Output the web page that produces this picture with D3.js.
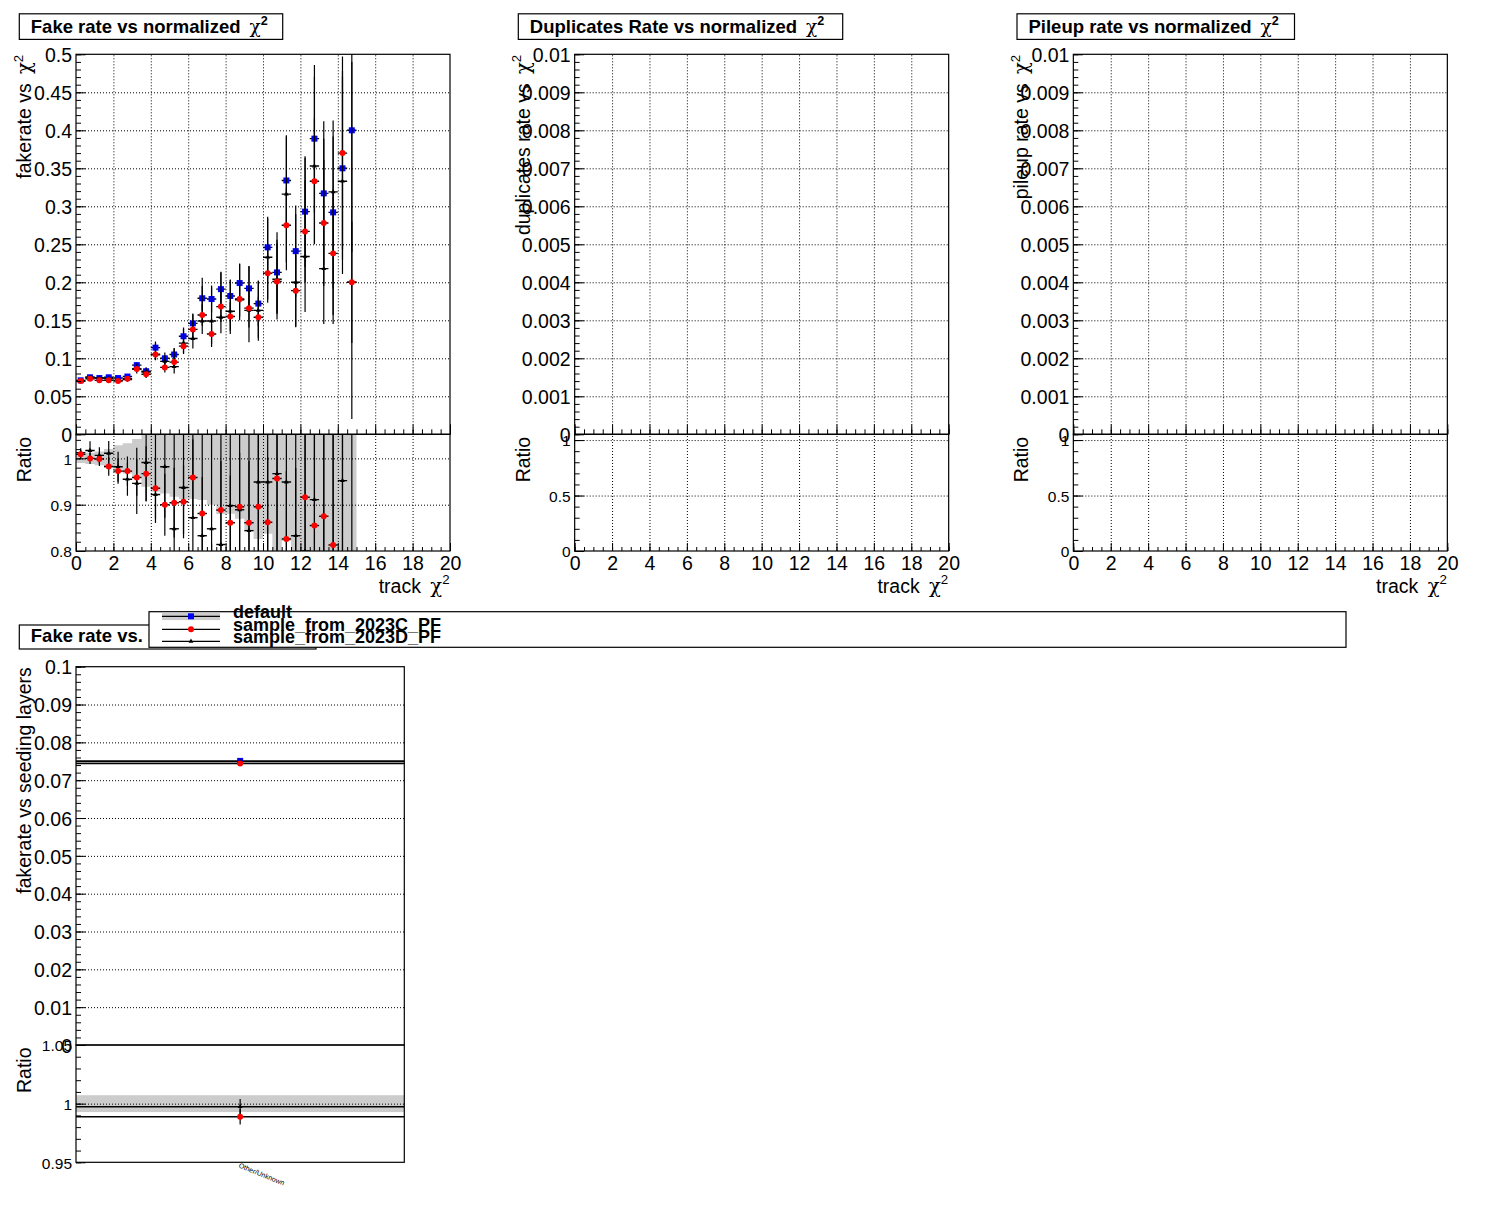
<!DOCTYPE html>
<html><head><meta charset="utf-8">
<script src="https://cdn.jsdelivr.net/npm/d3@7"></script>
<style>
body{margin:0;background:#fff;}
svg{display:block;}
</style></head><body>
<svg id="chart" width="1496" height="1222"></svg>
<script>
// ---------------- DATA ----------------
const chi2Bins = [0.25,0.75,1.25,1.75,2.25,2.75,3.25,3.75,4.25,4.75,5.25,5.75,6.25,6.75,7.25,7.75,8.25,8.75,9.25,9.75,10.25,10.75,11.25,11.75,12.25,12.75,13.25,13.75,14.25,14.75];
const binHalfWidth = 0.25;
const seriesNames = ["default","sample_from_2023C_PF","sample_from_2023D_PF"];

// default (blue)
const fakeDefault = [0.071,0.075,0.074,0.075,0.074,0.076,0.091,0.083,0.114,0.100,0.105,0.129,0.146,0.179,0.178,0.191,0.182,0.199,0.192,0.172,0.246,0.213,0.334,0.241,0.293,0.389,0.317,0.292,0.350,0.400];
const fakeDefaultErr = [0.0007,0.0009,0.0011,0.0015,0.0021,0.0025,0.0038,0.0051,0.0082,0.0076,0.0087,0.0114,0.0128,0.0161,0.0178,0.0229,0.0218,0.0259,0.0296,0.0299,0.0401,0.053,0.0595,0.060,0.073,0.097,0.095,0.100,0.120,0.160];
// 2023C (red)
const fake2023C = [0.070,0.073,0.071,0.071,0.070,0.073,0.086,0.079,0.105,0.088,0.095,0.116,0.138,0.157,0.132,0.168,0.155,0.178,0.166,0.154,0.212,0.201,0.275,0.189,0.267,0.333,0.278,0.238,0.370,0.200];
const fake2023CErr = [0.0007,0.0009,0.0011,0.0015,0.0020,0.0024,0.0036,0.0049,0.0075,0.0067,0.0079,0.0102,0.0120,0.0141,0.0132,0.0202,0.0186,0.0232,0.0256,0.0268,0.0346,0.050,0.049,0.047,0.067,0.083,0.083,0.081,0.127,0.080];
// 2023D (black), asymmetric errors
const fake2023D = [0.070,0.075,0.074,0.073,0.071,0.072,0.086,0.082,0.105,0.096,0.089,0.120,0.126,0.149,0.149,0.154,0.162,0.177,0.163,0.163,0.233,0.204,0.316,0.200,0.234,0.353,0.218,0.319,0.333,0.200];
const fake2023DErrLo = [0.0007,0.0015,0.0013,0.002,0.0024,0.0027,0.006,0.007,0.007,0.011,0.009,0.013,0.013,0.017,0.034,0.021,0.030,0.027,0.042,0.040,0.060,0.046,0.100,0.059,0.073,0.102,0.073,0.174,0.122,0.180];
const fake2023DErrHi = [0.0007,0.0015,0.0013,0.002,0.0024,0.0027,0.007,0.005,0.015,0.008,0.024,0.019,0.032,0.057,0.045,0.059,0.041,0.047,0.058,0.039,0.051,0.052,0.076,0.090,0.130,0.117,0.171,0.094,0.145,0.290];
// ratios to default (read from the lower pad)
const ratio2023C = [1.0087,1.000,0.9986,0.9826,0.9725,0.9725,0.9587,0.967,0.9355,0.900,0.9043,0.9065,0.9587,0.881,0.742,0.8884,0.861,0.8957,0.861,0.8957,0.862,0.9565,0.826,0.784,0.916,0.855,0.875,0.813,1.06,0.50];
const ratio2023D = [1.012,1.017,1.0065,1.011,0.982,0.955,0.946,0.991,0.922,0.982,0.848,0.937,0.872,0.833,0.848,0.814,0.898,0.889,0.844,0.949,0.949,0.967,0.949,0.833,0.800,0.911,0.688,1.09,0.952,0.50];

// seeding layers panel
const seedLayers = ["Other/Unknown"];
const seedDefault = [0.0751], seedDefaultErr = [0.00054];
const seed2023C = [0.0744], seed2023CErr = [0.0005];
const seed2023D = [0.0749], seed2023DErr = [0.0005];
const seedRatio2023C = [0.9888], seedRatio2023D = [0.9974];

// tick labels
const chi2Ticks = [0,2,4,6,8,10,12,14,16,18,20];
const fakeTicks = [0,0.05,0.1,0.15,0.2,0.25,0.3,0.35,0.4,0.45,0.5];
const rateTicks = [0,0.001,0.002,0.003,0.004,0.005,0.006,0.007,0.008,0.009,0.01];
const ratioTicksFake = [0.8,0.9,1];
const ratioTicksEmpty = [0,0.5,1];
const seedTicks = [0,0.01,0.02,0.03,0.04,0.05,0.06,0.07,0.08,0.09,0.1];
const seedRatioTicks = [0.95,1,1.05];

// ---------------- DRAWING ----------------
const FONT = "'Liberation Sans', Arial, Helvetica, sans-serif";
const SYM = "'DejaVu Serif', 'Liberation Serif', serif";
const svg = d3.select('#chart').attr('font-family', FONT);
const defs = svg.append('defs');
const fmt = d => String(+(+d).toFixed(5));
const rng = (a,b,s) => d3.range(a, b + s/2, s);

function chiText(t, pre, size, bold) {
  t.append('tspan').text(pre);
  t.append('tspan').attr('font-family', SYM).attr('font-weight','normal').attr('dx', size*0.2).text('χ');
  t.append('tspan').attr('font-size', size*0.68).attr('font-weight', bold ? 'bold' : 'normal').attr('dy', -size*0.42).text('2');
}
function titleBox(x, y, w, h, label, hasChi, baseline) {
  svg.append('rect').attr('x',x).attr('y',y).attr('width',w).attr('height',h)
    .attr('fill','#fff').attr('stroke','#000').attr('stroke-width',1.2);
  const t = svg.append('text').attr('x', x+11.5).attr('y', baseline)
    .attr('font-weight','bold').attr('font-size',18.5);
  if (hasChi) chiText(t, label + ' ', 18.5, true); else t.text(label);
}
function yTitle(xb, yTop, label, hasChi) {
  const t = svg.append('text').attr('transform', `translate(${xb},${yTop}) rotate(-90)`)
    .attr('text-anchor','end').attr('font-size',19.5);
  if (hasChi) chiText(t, label + ' ', 19.5, false); else t.text(label);
}
function xTitle(xr, yb) {
  const t = svg.append('text').attr('x', xr).attr('y', yb).attr('text-anchor','end').attr('font-size',19.5);
  chiText(t, 'track ', 19.5, false);
}
function styleGrid(g) {
  g.select('.domain').remove();
  g.selectAll('line').attr('stroke','#000').attr('stroke-dasharray','1,2').attr('stroke-width',1);
}
function axisLeftPair(g, scale, x, majors, minors, fsize, majLen, minLen) {
  g.append('g').attr('transform',`translate(${x},0)`)
    .call(d3.axisLeft(scale).tickValues(minors).tickSize(-minLen).tickFormat(''))
    .call(a => a.select('.domain').remove());
  g.append('g').attr('transform',`translate(${x},0)`)
    .call(d3.axisLeft(scale).tickValues(majors).tickSize(-majLen).tickPadding(4).tickFormat(fmt))
    .call(a => { a.select('.domain').remove(); a.attr('font-size', fsize).attr('font-family', FONT);
      a.selectAll('text').attr('dy','0.37em').attr('fill','#000'); });
}
function axisBottomPair(g, scale, y, majors, minors, majLen, minLen, labels) {
  g.append('g').attr('transform',`translate(0,${y})`)
    .call(d3.axisBottom(scale).tickValues(minors).tickSize(-minLen).tickFormat(''))
    .call(a => a.select('.domain').remove());
  g.append('g').attr('transform',`translate(0,${y})`)
    .call(d3.axisBottom(scale).tickValues(majors).tickSize(-majLen).tickPadding(5).tickFormat(labels ? fmt : ''))
    .call(a => { a.select('.domain').remove(); a.attr('font-size', 19.5).attr('font-family', FONT);
      a.selectAll('text').attr('fill','#000'); });
}

function drawPoints(g, xs, ys, lo, hi, xsc, ysc, marker, xHalf) {
  xs.forEach((xv, i) => {
    const v = ys[i]; if (v == null) return;
    const cx = xsc(xv), cy = ysc(v);
    const [x0, x1] = xHalf(i);
    g.append('line').attr('x1',cx).attr('x2',cx).attr('y1',ysc(v - lo[i])).attr('y2',ysc(v + hi[i]))
      .attr('stroke','#000').attr('stroke-width',1.2);
    g.append('line').attr('x1',x0).attr('x2',x1).attr('y1',cy).attr('y2',cy)
      .attr('stroke','#000').attr('stroke-width',1.4);
  });
  xs.forEach((xv, i) => {
    const v = ys[i]; if (v == null) return;
    const cx = xsc(xv), cy = ysc(v);
    if (marker === 'square') g.append('rect').attr('x',cx-3).attr('y',cy-3).attr('width',6).attr('height',6).attr('fill','#0000ff');
    else if (marker === 'circle') g.append('circle').attr('cx',cx).attr('cy',cy).attr('r',3).attr('fill','#ff0000');
    else g.append('path').attr('transform',`translate(${cx},${cy})`).attr('d', d3.symbol(d3.symbolTriangle, 10)()).attr('fill','#000');
  });
}

function makePanel(c) {
  const x = d3.scaleLinear().domain(c.xDomain).range([c.left, c.right]);
  const y = d3.scaleLinear().domain(c.yDomain).range([c.mid, c.top]);
  const yr = d3.scaleLinear().domain(c.rDomain).range([c.bottom, c.mid]);
  defs.append('clipPath').attr('id', c.id+'m').append('rect')
    .attr('x', c.left).attr('y', c.top).attr('width', c.right-c.left).attr('height', c.mid-c.top);
  defs.append('clipPath').attr('id', c.id+'r').append('rect')
    .attr('x', c.left).attr('y', c.mid).attr('width', c.right-c.left).attr('height', c.bottom-c.mid);
  const gBand = svg.append('g').attr('clip-path', `url(#${c.id}r)`);
  const gGrid = svg.append('g');
  const gMain = svg.append('g').attr('clip-path', `url(#${c.id}m)`);
  const gRatio = svg.append('g').attr('clip-path', `url(#${c.id}r)`);
  const gAxes = svg.append('g');
  return {x, y, yr, gBand, gGrid, gMain, gRatio, gAxes};
}

function chi2Panel(c) {
  const p = makePanel(c);
  const xGrid = chi2Ticks.slice(1, -1);
  p.gGrid.append('g').attr('transform',`translate(0,${c.mid})`)
    .call(d3.axisBottom(p.x).tickValues(xGrid).tickSize(-(c.mid-c.top)).tickFormat('')).call(styleGrid);
  p.gGrid.append('g').attr('transform',`translate(0,${c.bottom})`)
    .call(d3.axisBottom(p.x).tickValues(xGrid).tickSize(-(c.bottom-c.mid)).tickFormat('')).call(styleGrid);
  p.gGrid.append('g').attr('transform',`translate(${c.left},0)`)
    .call(d3.axisLeft(p.y).tickValues(c.yTicks.slice(1,-1)).tickSize(-(c.right-c.left)).tickFormat('')).call(styleGrid);
  p.gGrid.append('g').attr('transform',`translate(${c.left},0)`)
    .call(d3.axisLeft(p.yr).tickValues(c.rGrid).tickSize(-(c.right-c.left)).tickFormat('')).call(styleGrid);
  svg.append('rect').attr('x',c.left).attr('y',c.top).attr('width',c.right-c.left).attr('height',c.mid-c.top)
    .attr('fill','none').attr('stroke','#000').attr('stroke-width',1.2);
  svg.append('rect').attr('x',c.left).attr('y',c.mid).attr('width',c.right-c.left).attr('height',c.bottom-c.mid)
    .attr('fill','none').attr('stroke','#000').attr('stroke-width',1.2);
  axisLeftPair(p.gAxes, p.y, c.left, c.yTicks, rng(c.yDomain[0], c.yDomain[1], c.yMinor), 19.5, 9.5, 5);
  axisLeftPair(p.gAxes, p.yr, c.left, c.rTicks, c.rMinors, 15.5, 9.5, 5);
  axisBottomPair(p.gAxes, p.x, c.mid, chi2Ticks, rng(0,20,0.5), 10, 5, false);
  axisBottomPair(p.gAxes, p.x, c.bottom, chi2Ticks, rng(0,20,0.5), 8, 4, true);
  yTitle(c.left-45, c.top+0.5, c.yLabel, true);
  svg.append('text').attr('transform',`translate(${c.left-45},${c.mid+2.5}) rotate(-90)`)
    .attr('text-anchor','end').attr('font-size',19.5).text('Ratio');
  xTitle(c.right-0.5, c.bottom+41.5);
  return p;
}

// ---- Panel 1: fake rate vs chi2 ----
const PAD = 498.67;
const c1 = {id:'p1', left:76, right:450, top:54.3, mid:434.3, bottom:551,
  xDomain:[0,20], yDomain:[0,0.5], rDomain:[0.8,1.052], yTicks:fakeTicks, yMinor:0.01,
  rTicks:ratioTicksFake, rMinors:rng(0.8,1.04,0.02), rGrid:[0.9,1], yLabel:'fakerate vs'};
const p1 = chi2Panel(c1);
const binPx = i => [p1.x(chi2Bins[i]-binHalfWidth), p1.x(chi2Bins[i]+binHalfWidth)];

const bandPts = [];
chi2Bins.forEach((b,i) => {
  const rel = fakeDefaultErr[i] / fakeDefault[i];
  bandPts.push({x:b-binHalfWidth, lo:1-rel, hi:1+rel});
  bandPts.push({x:b+binHalfWidth, lo:1-rel, hi:1+rel});
});
p1.gBand.append('path').datum(bandPts)
  .attr('d', d3.area().x(d => p1.x(d.x)).y0(d => p1.yr(d.lo)).y1(d => p1.yr(d.hi)))
  .attr('fill','#cccccc');

drawPoints(p1.gMain, chi2Bins, fakeDefault, fakeDefaultErr, fakeDefaultErr, p1.x, p1.y, 'square', binPx);
drawPoints(p1.gMain, chi2Bins, fake2023D, fake2023DErrLo, fake2023DErrHi, p1.x, p1.y, 'tri', binPx);
drawPoints(p1.gMain, chi2Bins, fake2023C, fake2023CErr, fake2023CErr, p1.x, p1.y, 'circle', binPx);
const rErrC = fake2023CErr.map((e,i) => e / fakeDefault[i]);
const rErrDLo = fake2023DErrLo.map((e,i) => e / fakeDefault[i]);
const rErrDHi = fake2023DErrHi.map((e,i) => e / fakeDefault[i]);
drawPoints(p1.gRatio, chi2Bins, ratio2023D, rErrDLo, rErrDHi, p1.x, p1.yr, 'tri', binPx);
drawPoints(p1.gRatio, chi2Bins, ratio2023C, rErrC, rErrC, p1.x, p1.yr, 'circle', binPx);

// ---- Panels 2,3 ----
const c2 = {id:'p2', left:76+PAD, right:450+PAD, top:54.3, mid:434.3, bottom:551,
  xDomain:[0,20], yDomain:[0,0.01], rDomain:[0,1.052], yTicks:rateTicks, yMinor:0.0002,
  rTicks:ratioTicksEmpty, rMinors:rng(0,1,0.1), rGrid:[0.5,1], yLabel:'duplicates rate vs'};
chi2Panel(c2);
const c3 = Object.assign({}, c2, {id:'p3', left:76+2*PAD, right:450+2*PAD, yLabel:'pileup rate vs'});
chi2Panel(c3);

titleBox(19.3, 13.8, 263.4, 25.6, 'Fake rate vs normalized', true, 32.8);
titleBox(518.3, 13.8, 324.4, 25.6, 'Duplicates Rate vs normalized', true, 32.8);
titleBox(1017, 13.8, 277.5, 25.6, 'Pileup rate vs normalized', true, 32.8);

// ---- Panel 4: fake rate vs seeding layers ----
const c4 = {left:76, right:404.3, top:666.7, mid:1045, bottom:1162.3};
const xs = d3.scaleBand().domain(seedLayers).range([c4.left, c4.right]).padding(0);
const ys = d3.scaleLinear().domain([0,0.1]).range([c4.mid, c4.top]);
const yrs = d3.scaleLinear().domain([0.95,1.05]).range([c4.bottom, c4.mid]);
const xcs = d => xs(d) + xs.bandwidth()/2;
defs.append('clipPath').attr('id','p4r').append('rect').attr('x',c4.left).attr('y',c4.mid).attr('width',c4.right-c4.left).attr('height',c4.bottom-c4.mid);
const g4band = svg.append('g').attr('clip-path','url(#p4r)');
seedLayers.forEach((s,i) => {
  const rel = seedDefaultErr[i]/seedDefault[i];
  g4band.append('rect').attr('x', xs(s)).attr('width', xs.bandwidth())
    .attr('y', yrs(1+rel)).attr('height', yrs(1-rel)-yrs(1+rel)).attr('fill','#cccccc');
});
svg.append('g').attr('transform',`translate(${c4.left},0)`)
  .call(d3.axisLeft(ys).tickValues(seedTicks.slice(1,-1)).tickSize(-(c4.right-c4.left)).tickFormat('')).call(styleGrid);
svg.append('g').attr('transform',`translate(${c4.left},0)`)
  .call(d3.axisLeft(yrs).tickValues([1]).tickSize(-(c4.right-c4.left)).tickFormat('')).call(styleGrid);
const g4 = svg.append('g');
const seedPx = i => [c4.left, c4.right];
drawPoints(g4, seedLayers, seedDefault, seedDefaultErr, seedDefaultErr, xcs, ys, 'square', seedPx);
drawPoints(g4, seedLayers, seed2023D, seed2023DErr, seed2023DErr, xcs, ys, 'tri', seedPx);
drawPoints(g4, seedLayers, seed2023C, seed2023CErr, seed2023CErr, xcs, ys, 'circle', seedPx);
const g4r = svg.append('g').attr('clip-path','url(#p4r)');
const sErrC = seed2023CErr.map((e,i)=>e/seedDefault[i]);
const sErrD = seed2023DErr.map((e,i)=>e/seedDefault[i]);
drawPoints(g4r, seedLayers, seedRatio2023D, sErrD, sErrD, xcs, yrs, 'tri', seedPx);
drawPoints(g4r, seedLayers, seedRatio2023C, sErrC, sErrC, xcs, yrs, 'circle', seedPx);
svg.append('rect').attr('x',c4.left).attr('y',c4.top).attr('width',c4.right-c4.left).attr('height',c4.mid-c4.top)
  .attr('fill','none').attr('stroke','#000').attr('stroke-width',1.2);
svg.append('rect').attr('x',c4.left).attr('y',c4.mid).attr('width',c4.right-c4.left).attr('height',c4.bottom-c4.mid)
  .attr('fill','none').attr('stroke','#000').attr('stroke-width',1.2);
const g4a = svg.append('g');
axisLeftPair(g4a, ys, c4.left, seedTicks, rng(0,0.1,0.002), 19.5, 9.5, 5);
axisLeftPair(g4a, yrs, c4.left, seedRatioTicks, rng(0.95,1.05,0.01), 15.5, 9.5, 5);
g4a.append('g').attr('transform',`translate(0,${c4.bottom})`)
  .call(d3.axisBottom(xs).tickSize(0).tickPadding(0))
  .call(a => { a.select('.domain').remove(); a.attr('font-size',7).attr('font-family',FONT);
    a.selectAll('text').attr('text-anchor','start').attr('dy',null).attr('y',0)
     .attr('transform', 'translate(-2,5) rotate(22)').attr('fill','#000'); });
yTitle(31, c4.top+0.5, 'fakerate vs seeding layers', false);
svg.append('text').attr('transform',`translate(31,${c4.mid+2.5}) rotate(-90)`)
  .attr('text-anchor','end').attr('font-size',19.5).text('Ratio');

titleBox(19.3, 625, 296.7, 24, 'Fake rate vs. seeding layers', false, 642);

// ---- Legend ----
const lg = svg.append('g');
lg.append('rect').attr('x',149).attr('y',611.7).attr('width',1197).attr('height',35.6)
  .attr('fill','#fff').attr('stroke','#000').attr('stroke-width',1.2);
const legendRows = [616.3, 629.3, 641.3];
const legendBase = [618.3, 630.7, 642.7];
const legendMarkers = ['square','circle','tri'];
lg.append('rect').attr('x',162).attr('y',612.7).attr('width',58).attr('height',7.4).attr('fill','#cccccc');
seriesNames.forEach((name,i) => {
  lg.append('line').attr('x1',162).attr('x2',220).attr('y1',legendRows[i]).attr('y2',legendRows[i])
    .attr('stroke','#000').attr('stroke-width',1.3);
  drawPoints(lg, [191], [legendRows[i]], [0], [0], v => v, v => v, legendMarkers[i], () => [191,191]);
  lg.append('text').attr('x',233).attr('y',legendBase[i]).attr('font-size',18).attr('font-weight','bold').text(name);
});
</script></body></html>
